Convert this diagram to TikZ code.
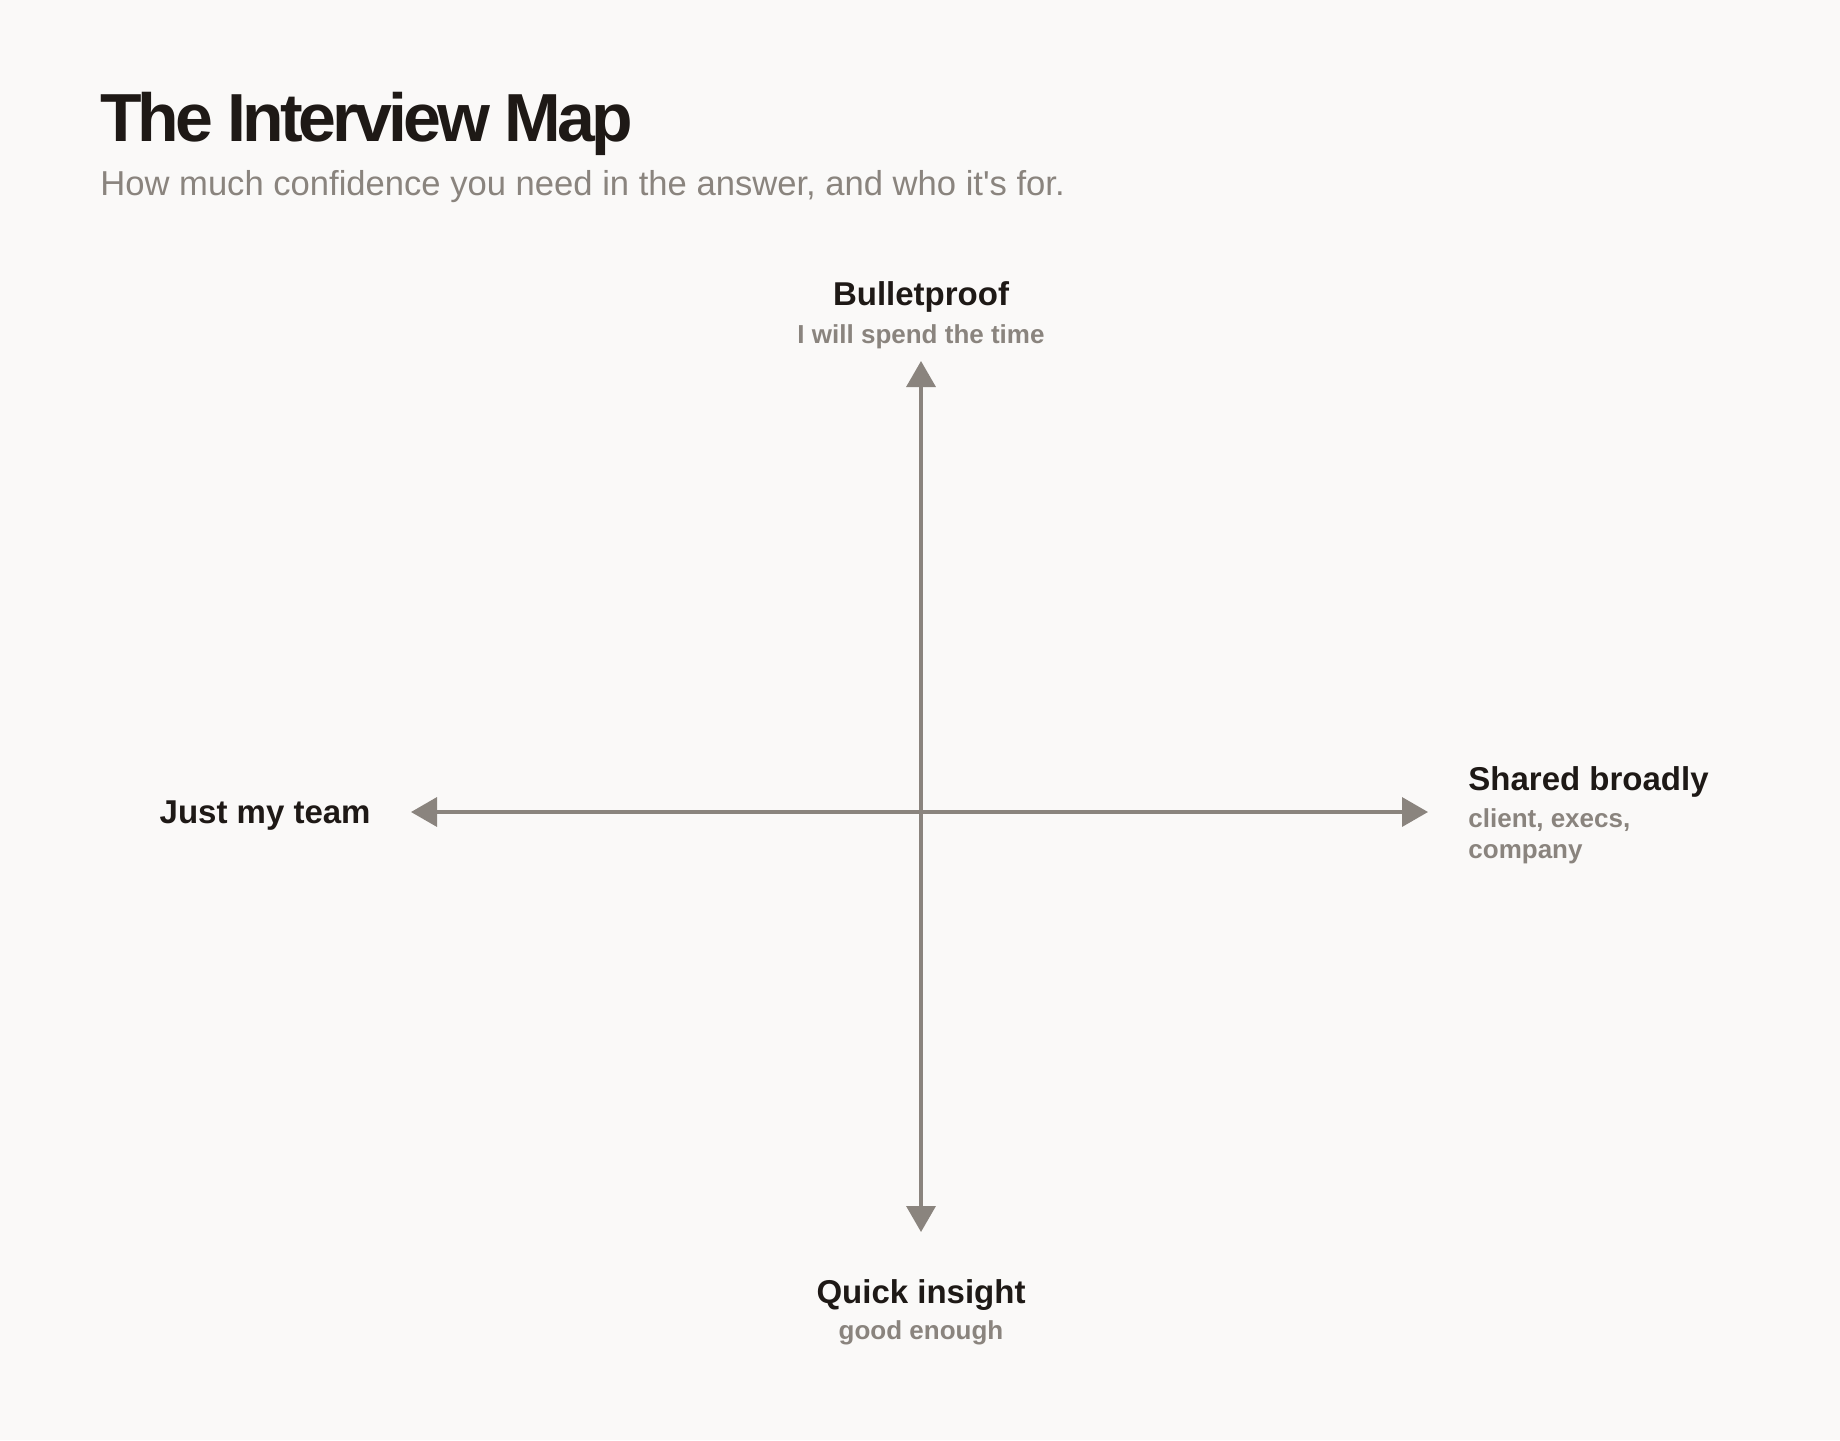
\documentclass[tikz,border=0pt]{standalone}
\usepackage{fontspec}
\setmainfont{Liberation Sans}
\newfontfamily\titlefont[LetterSpace=-6]{Liberation Sans}
\usepackage{tikz}
\usetikzlibrary{arrows.meta,positioning}

\definecolor{paper}{HTML}{FAF9F8}
\definecolor{ink}{HTML}{1E1916}
\definecolor{muted}{HTML}{8A847E}

\tikzset{
  axislbl/.style={font=\bfseries\fontsize{16.5}{19}\selectfont, text=ink, inner sep=0pt},
  axissub/.style={font=\bfseries\fontsize{13}{15.5}\selectfont, text=muted, inner sep=0pt},
  axisline/.style={draw=muted, line width=1.75pt,
    {Triangle[width=14.5pt,length=13pt]}-{Triangle[width=14.5pt,length=13pt]}}
}

\begin{document}
\begin{tikzpicture}[x=0.5pt, y=-0.5pt]
    \fill[paper] (0,0) rectangle (1840,1440);
    \useasboundingbox (0,0) rectangle (1840,1440);

    \node[anchor=base west, inner sep=0pt, text=ink,
      font=\titlefont\bfseries\fontsize{34}{40}\selectfont] (title) at (100,141) {The Interview Map};
    \node[anchor=base west, inner sep=0pt, text=muted,
      font=\fontsize{17.3}{20}\selectfont] (subtitle) at (100,195)
      {How much confidence you need in the answer, and who it\textquotesingle s for.};

    \coordinate (o) at (921,812);
    \coordinate (up) at (921,361);
    \coordinate (down) at (921,1232);
    \coordinate (left) at (411,812);
    \coordinate (right) at (1428,812);

    \draw[axisline] (down) -- (up);
    \draw[axisline] (left) -- (right);

    \node[axislbl, anchor=base] (bullet) at (921,305) {Bulletproof};
    \node[axissub, anchor=base] (bulletsub) at (921,343) {I will spend the time};

    \node[axislbl, anchor=base] (quick) at (921,1303) {Quick insight};
    \node[axissub, anchor=base] (quicksub) at (921,1339) {good enough};

    \node[axislbl, anchor=base east] (team) at (371,823) {Just my team};

    \node[axislbl, anchor=base west] (shared) at (1468,790) {Shared broadly};
    \node[axissub, anchor=base west, align=left] (sharedsub) at (1468,858)
      {client, execs,\\company};
\end{tikzpicture}
\end{document}
